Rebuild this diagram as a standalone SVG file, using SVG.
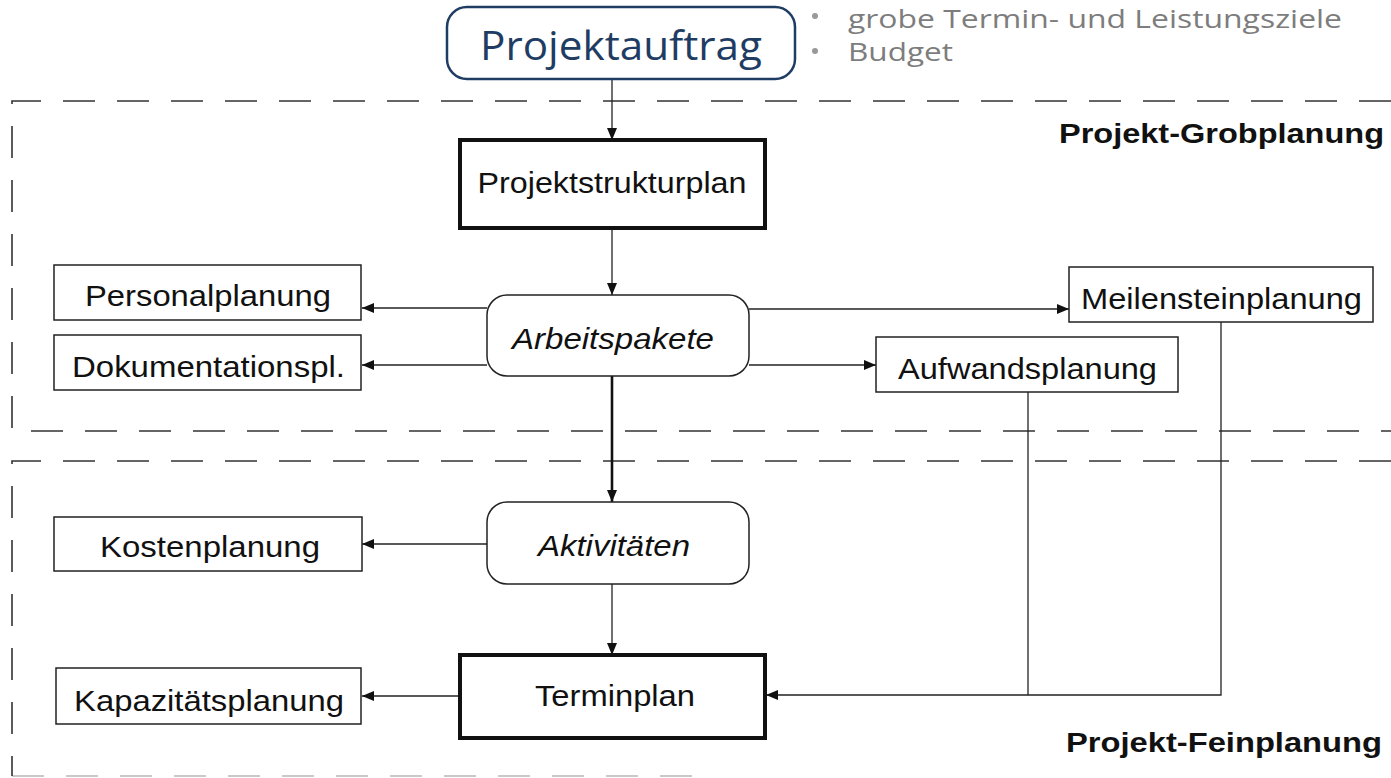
<svg xmlns="http://www.w3.org/2000/svg" width="1391" height="778" viewBox="0 0 1391 778">
<defs>
<marker id="ah" viewBox="0 0 12 10" refX="12" refY="5" markerWidth="12" markerHeight="10" markerUnits="userSpaceOnUse" orient="auto">
<path d="M0,0 L12,5 L0,10 Z" fill="#111"/>
</marker>
<style>
.frame{fill:none;stroke:#333;stroke-width:1.6;stroke-dasharray:32 22}
.box{fill:#fff;stroke:#222;stroke-width:1.5}
.thick{fill:#fff;stroke:#111;stroke-width:4}
.t{font-family:"Liberation Sans",Arial,sans-serif;font-size:30px;fill:#111;text-anchor:middle}
.it{font-style:italic}
.b{font-family:"Liberation Sans",Arial,sans-serif;font-size:27px;font-weight:bold;fill:#111;text-anchor:end}
.c{fill:none;stroke:#222;stroke-width:1.3}
.g{font-family:"Open Sans","Noto Sans",sans-serif;font-size:26px;fill:#7d7d7d}
</style>
</defs>
<rect width="1391" height="778" fill="#fff"/>

<g id="frames">
<path class="frame" d="M1391,101 L12,101 L12,431 L1391,431"/>
<path class="frame" d="M1391,461 L12,461 L12,776"/>
<path class="frame" d="M12,776 L700,776" stroke-opacity="0.35"/>
</g>

<g id="connectors">
<line class="c" x1="612" y1="79" x2="612" y2="140" marker-end="url(#ah)"/>
<line class="c" x1="612" y1="228" x2="612" y2="295" marker-end="url(#ah)"/>
<line class="c" x1="487" y1="308" x2="362" y2="308" marker-end="url(#ah)"/>
<line class="c" x1="487" y1="365" x2="362" y2="365" marker-end="url(#ah)"/>
<line class="c" x1="749" y1="309" x2="1069" y2="309" marker-end="url(#ah)"/>
<line class="c" x1="749" y1="365" x2="876" y2="365" marker-end="url(#ah)"/>
<line x1="612" y1="376" x2="612" y2="502" stroke="#111" stroke-width="2.6" marker-end="url(#ah)"/>
<line class="c" x1="487" y1="544" x2="362" y2="544" marker-end="url(#ah)"/>
<line class="c" x1="612" y1="584" x2="612" y2="655" marker-end="url(#ah)"/>
<line class="c" x1="460" y1="696" x2="362" y2="696" marker-end="url(#ah)"/>
<polyline class="c" points="1028,392 1028,695"/>
<polyline class="c" points="1221,322 1221,695 766,695" marker-end="url(#ah)"/>
</g>

<g id="projektauftrag">
<rect x="447" y="7" width="348" height="72" rx="20" fill="#fff" stroke="#1f3d63" stroke-width="2.5"/>
<text x="621" y="60" font-family="'Open Sans','Noto Sans',sans-serif" font-size="40" fill="#1f3d63" text-anchor="middle" textLength="282" lengthAdjust="spacingAndGlyphs">Projektauftrag</text>
</g>

<g id="ziele">
<circle cx="815" cy="16" r="3" fill="#999"/>
<circle cx="815" cy="51" r="3" fill="#999"/>
<text class="g" x="848" y="28" textLength="494" lengthAdjust="spacingAndGlyphs">grobe Termin- und Leistungsziele</text>
<text class="g" x="848" y="61" textLength="105" lengthAdjust="spacingAndGlyphs">Budget</text>
</g>

<g id="label-grob"><text class="b" x="1384" y="143" textLength="325" lengthAdjust="spacingAndGlyphs">Projekt-Grobplanung</text></g>
<g id="label-fein"><text class="b" x="1382" y="752" textLength="316" lengthAdjust="spacingAndGlyphs">Projekt-Feinplanung</text></g>

<g id="projektstrukturplan">
<rect class="thick" x="460" y="140" width="305" height="88"/>
<text class="t" x="612" y="193" textLength="269" lengthAdjust="spacingAndGlyphs">Projektstrukturplan</text>
</g>

<g id="arbeitspakete">
<rect class="box" x="487" y="295" width="262" height="81" rx="20"/>
<text class="t it" x="613" y="349" textLength="202" lengthAdjust="spacingAndGlyphs">Arbeitspakete</text>
</g>

<g id="personalplanung">
<rect class="box" x="54" y="265" width="307" height="55"/>
<text class="t" x="208" y="306" textLength="246" lengthAdjust="spacingAndGlyphs">Personalplanung</text>
</g>

<g id="dokumentationspl">
<rect class="box" x="54" y="335" width="307" height="55"/>
<text class="t" x="208.5" y="377" textLength="273" lengthAdjust="spacingAndGlyphs">Dokumentationspl.</text>
</g>

<g id="meilensteinplanung">
<rect class="box" x="1069" y="267" width="304" height="55"/>
<text class="t" x="1221.5" y="309" textLength="281" lengthAdjust="spacingAndGlyphs">Meilensteinplanung</text>
</g>

<g id="aufwandsplanung">
<rect class="box" x="876" y="337" width="302" height="55"/>
<text class="t" x="1027.5" y="379" textLength="259" lengthAdjust="spacingAndGlyphs">Aufwandsplanung</text>
</g>

<g id="aktivitaeten">
<rect class="box" x="487" y="502" width="262" height="82" rx="20"/>
<text class="t it" x="614" y="556" textLength="152" lengthAdjust="spacingAndGlyphs">Aktivitäten</text>
</g>

<g id="kostenplanung">
<rect class="box" x="54" y="517" width="308" height="54"/>
<text class="t" x="210" y="557" textLength="220" lengthAdjust="spacingAndGlyphs">Kostenplanung</text>
</g>

<g id="terminplan">
<rect class="thick" x="460" y="655" width="305" height="83"/>
<text class="t" x="615" y="706" textLength="160" lengthAdjust="spacingAndGlyphs">Terminplan</text>
</g>

<g id="kapazitaetsplanung">
<rect class="box" x="56" y="668" width="305" height="56"/>
<text class="t" x="209" y="711" textLength="270" lengthAdjust="spacingAndGlyphs">Kapazitätsplanung</text>
</g>
</svg>
